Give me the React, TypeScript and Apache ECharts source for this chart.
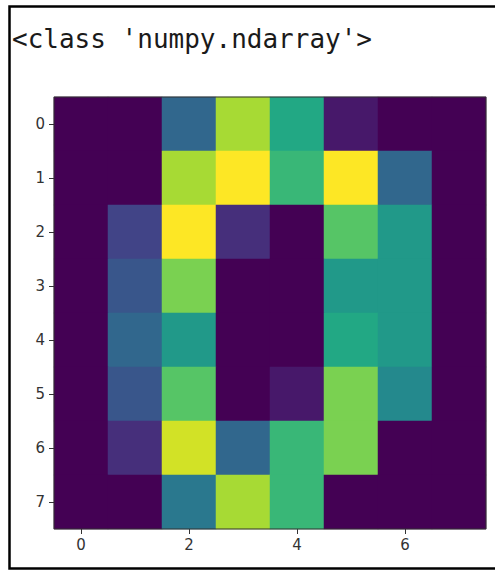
import React, { useEffect, useRef } from "react";
import * as echarts from "echarts";

const xLabels = ["0", "1", "2", "3", "4", "5", "6", "7"];
const yLabels = ["0", "1", "2", "3", "4", "5", "6", "7"];
const pixelRows: number[][] = [
  [0, 0, 5, 13, 9, 1, 0, 0],
  [0, 0, 13, 15, 10, 15, 5, 0],
  [0, 3, 15, 2, 0, 11, 8, 0],
  [0, 4, 12, 0, 0, 8, 8, 0],
  [0, 5, 8, 0, 0, 9, 8, 0],
  [0, 4, 11, 0, 1, 12, 7, 0],
  [0, 2, 14, 5, 10, 12, 0, 0],
  [0, 0, 6, 13, 10, 0, 0, 0],
];
const viridis = [
  "#440154", "#482475", "#414487", "#355f8d", "#2a788e", "#21918c",
  "#22a884", "#44bf70", "#7ad151", "#bddf26", "#fde725",
];
const titleText = "<class 'numpy.ndarray'>";

const G = { left: 54, top: 97, width: 432, height: 432 };

export default function App() {
  const ref = useRef<HTMLDivElement>(null);
  useEffect(() => {
    const chart = echarts.init(ref.current!, null, { renderer: "svg" });
    const data: number[][] = [];
    pixelRows.forEach((row, r) => row.forEach((v, c) => data.push([c, r, v])));
    chart.setOption({
      animation: false,
      backgroundColor: "#ffffff",
      grid: { left: G.left, top: G.top, width: G.width, height: G.height },
      xAxis: {
        type: "category",
        data: xLabels,
        position: "bottom",
        axisLine: { show: false },
        axisTick: { show: true, interval: 1, alignWithLabel: true, length: 5, lineStyle: { color: "#333" } },
        axisLabel: { interval: 1, margin: 8, color: "#333", fontFamily: "DejaVu Sans", fontSize: 15 },
        splitLine: { show: false },
      },
      yAxis: {
        type: "category",
        data: yLabels,
        inverse: true,
        axisLine: { show: false },
        axisTick: { show: true, alignWithLabel: true, length: 5, lineStyle: { color: "#333" } },
        axisLabel: { margin: 9, color: "#333", fontFamily: "DejaVu Sans", fontSize: 15 },
        splitLine: { show: false },
      },
      visualMap: {
        show: false,
        type: "continuous",
        min: 0,
        max: 15,
        dimension: 2,
        inRange: { color: viridis },
      },
      series: [
        {
          type: "heatmap",
          data,
          itemStyle: { borderWidth: 0 },
          emphasis: { disabled: true },
        },
      ],
      graphic: [
        {
          type: "rect",
          z: 100,
          shape: { x: G.left, y: G.top, width: G.width, height: G.height },
          style: { fill: "none", stroke: "#333", lineWidth: 1 },
        },
        {
          type: "rect",
          z: 100,
          shape: { x: 9.5, y: 6.5, width: 500, height: 562 },
          style: { fill: "none", stroke: "#000", lineWidth: 2.5 },
        },
        {
          type: "text",
          z: 100,
          x: 12,
          y: 52,
          style: {
            text: titleText,
            fontFamily: "DejaVu Sans Mono",
            fontSize: 26,
            fill: "#1a1a1a",
            textVerticalAlign: "bottom",
            verticalAlign: "bottom",
          },
        },
      ],
    });
    return () => chart.dispose();
  }, []);
  return (
    <div
      ref={ref}
      style={{ position: "fixed", left: 0, top: 0, width: 495, height: 571 }}
    />
  );
}
